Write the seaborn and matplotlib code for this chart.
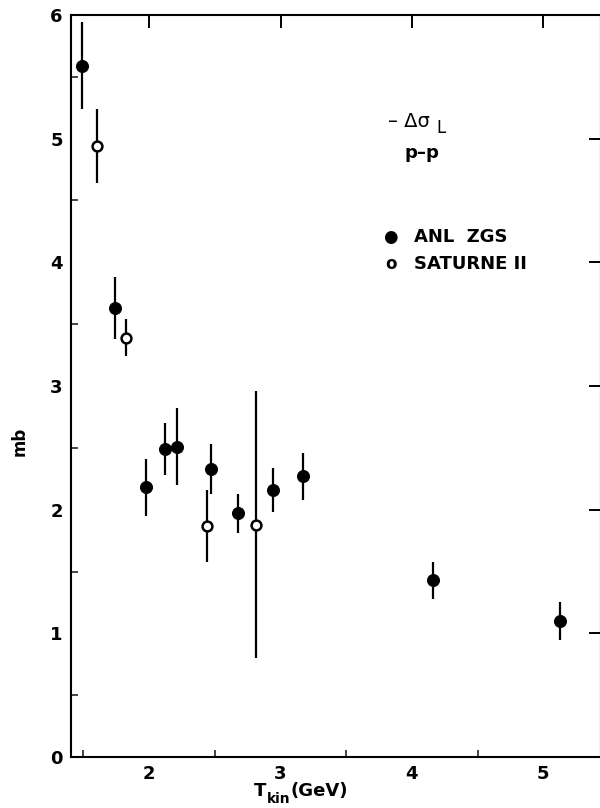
import matplotlib
matplotlib.use("Agg")
import matplotlib.pyplot as plt
import seaborn as sns
import pandas as pd
from matplotlib.ticker import MultipleLocator

# Data
anl_T = [1.49, 1.74, 1.975, 2.12, 2.21, 2.47, 2.68, 2.94, 3.17, 4.16, 5.13]
anl_val = [5.59, 3.63, 2.18, 2.49, 2.51, 2.33, 1.97, 2.16, 2.27, 1.43, 1.10]
anl_err = [0.35, 0.25, 0.23, 0.21, 0.31, 0.20, 0.16, 0.18, 0.19, 0.15, 0.15]

sat_T = [1.60, 1.82, 2.44, 2.81]
sat_val = [4.94, 3.39, 1.87, 1.88]
sat_err = [0.30, 0.15, 0.29, 1.08]

x_ticks = [2, 3, 4, 5]
y_ticks = [0, 1, 2, 3, 4, 5, 6]

sns.set_theme(style="white")
plt.rcParams['font.family'] = ['DejaVu Sans']
plt.rcParams['text.color'] = 'black'

fig = plt.figure(figsize=(6, 8.08), dpi=100)
ax = fig.add_axes([71/600, 51/808, (601-71)/600, (757-15)/808])

df = pd.concat([
    pd.DataFrame({"T": anl_T, "v": anl_val, "e": anl_err, "set": "ANL ZGS"}),
    pd.DataFrame({"T": sat_T, "v": sat_val, "e": sat_err, "set": "SATURNE II"}),
])

ax.errorbar(df["T"], df["v"], yerr=df["e"], fmt="none", ecolor="black",
            elinewidth=1.6, capsize=0, zorder=2)

sns.scatterplot(data=df[df["set"] == "ANL ZGS"], x="T", y="v", ax=ax,
                color="black", edgecolor="black", s=75, marker="o", zorder=3,
                legend=False)
sns.scatterplot(data=df[df["set"] == "SATURNE II"], x="T", y="v", ax=ax,
                color="white", edgecolor="black", linewidth=1.8, s=50,
                marker="o", zorder=3, legend=False)

ax.set_xlim(1.405, 5.44)
ax.set_ylim(0, 6)
ax.set_xticks(x_ticks)
ax.set_yticks(y_ticks)
ax.xaxis.set_minor_locator(MultipleLocator(0.5))
ax.yaxis.set_minor_locator(MultipleLocator(0.5))

for s in ax.spines.values():
    s.set_linewidth(1.5)
    s.set_color("black")

ax.tick_params(which="major", direction="in", length=9, width=1.4,
               top=True, right=True, labelsize=13, pad=6, colors="black")
ax.tick_params(which="minor", direction="in", length=5, width=1.2,
               top=False, right=False, bottom=True, left=True)
for lab in ax.get_xticklabels() + ax.get_yticklabels():
    lab.set_fontweight("bold")

ax.set_xlabel("")
ax.set_ylabel("")
fig.text(20/600, 1 - 441/808, "mb", rotation=90, ha="center", va="center",
         fontsize=12, fontweight="bold", color="black")
fig.text(254/600, 1 - 796/808, "T", ha="left", va="baseline",
         fontsize=13, fontweight="bold", color="black")
fig.text(267/600, 1 - 803/808, "kin", ha="left", va="baseline",
         fontsize=10, fontweight="bold", color="black")
fig.text(291/600, 1 - 796/808, "(GeV)", ha="left", va="baseline",
         fontsize=13, fontweight="bold", color="black")

# annotation
fig.text(388/600, 1 - 127/808, "– Δσ", ha="left", va="baseline",
         fontsize=14, color="black")
fig.text(436/600, 1 - 133/808, "L", ha="left", va="baseline",
         fontsize=12, color="black")
fig.text(405/600, 1 - 153/808, "p–p", ha="left", va="center",
         fontsize=13, fontweight="bold", color="black")

# legend
fig.text(390/600, 1 - 237/808, "●", ha="center", va="center", fontsize=12,
         color="black")
fig.text(391/600, 1 - 264/808, "o", ha="center", va="center", fontsize=12,
         fontweight="bold", color="black")
fig.text(414/600, 1 - 237/808, "ANL  ZGS", ha="left", va="center",
         fontsize=13, fontweight="bold", color="black")
fig.text(414/600, 1 - 264/808, "SATURNE II", ha="left", va="center",
         fontsize=13, fontweight="bold", color="black")

fig.savefig("out.png", dpi=100)
